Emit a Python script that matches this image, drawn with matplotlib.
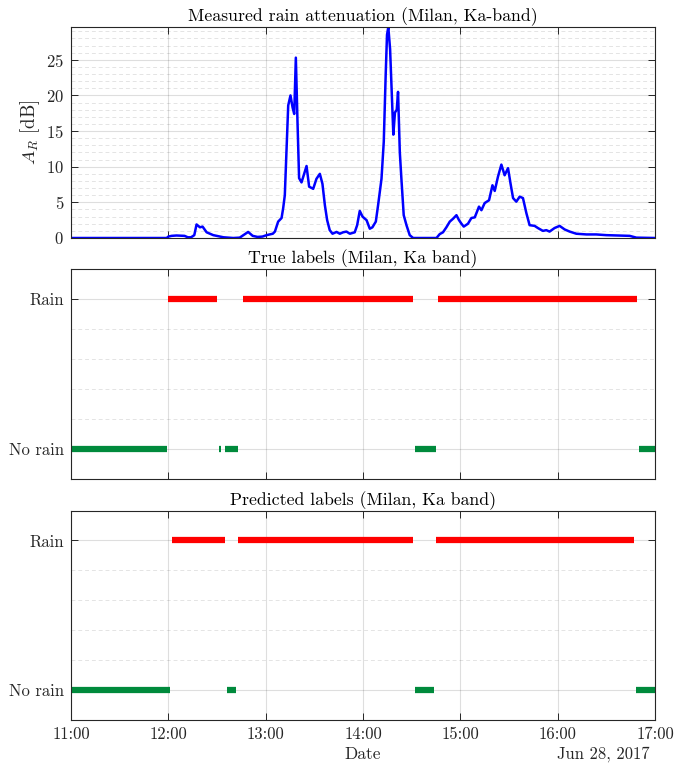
import datetime as dt
import matplotlib
matplotlib.use("Agg")
import matplotlib.pyplot as plt
import matplotlib.dates as mdates
from matplotlib.ticker import MultipleLocator, FixedLocator

plt.rcParams.update({
    "font.family": "serif",
    "font.serif": ["cmr10"],
    "mathtext.fontset": "cm",
    "axes.unicode_minus": False,
    "axes.formatter.use_mathtext": True,
    "font.size": 12,
})

# Rain attenuation time series: minutes after 11:00 and attenuation in dB
att_minutes = [0, 59, 60, 62, 65, 70, 72, 74, 76, 77.4, 79.5, 81.1, 83.6, 87.7, 91.8,
               94, 100, 104, 109.2, 112, 115, 118, 120.6, 122.6, 124.4, 125.7, 127.7,
               129.8, 130.8, 131.8, 132.7, 133.9, 135.3, 136.6, 137.6, 138.6, 139.6,
               140.6, 142.1, 143.7, 145.2, 146.8, 149.3, 151.3, 153.4, 155.0, 156.5,
               157.9, 159.5, 161.2, 163.7, 165.7, 167.7, 169.8, 171.9, 174.9, 176.4,
               178.0, 179.7, 182.2, 184.2, 185.8, 187.9, 189.3, 191.4, 192.8, 194.0,
               194.8, 195.6, 196.7, 197.7, 198.7, 199.7, 200.8, 201.6, 202.7, 203.7,
               205.1, 206.8, 208.8, 210.9, 225.3, 227.3, 229.3, 231.4, 233.5, 235.5,
               237.6, 239.2, 240.7, 242.1, 244.7, 246.8, 248.9, 251.5, 253.0, 255.0,
               257.7, 259.8, 261.2, 263.2, 265.3, 267.3, 269.4, 270.9, 272.5, 274.5,
               276.6, 278.6, 280.7, 282.7, 285.8, 287.8, 290.9, 293.0, 295.0, 298.1,
               301.2, 304.3, 307.4, 311.5, 317.7, 323.8, 330.0, 338.2, 344.4, 348.5, 360]
att_db = [0, 0, 0.2, 0.3, 0.35, 0.3, 0.1, 0.1, 0.4, 1.9, 1.5, 1.6, 0.8, 0.4, 0.2,
          0.1, 0.0, 0.05, 0.85, 0.3, 0.15, 0.2, 0.4, 0.5, 0.6, 0.9, 2.3,
          2.8, 4.2, 6.0, 11.5, 18.6, 20.0, 18.3, 17.4, 25.3, 16.5,
          8.4, 7.8, 9.0, 10.1, 7.2, 6.9, 8.3, 9.0, 7.6, 4.6,
          2.5, 1.1, 0.6, 0.85, 0.6, 0.8, 0.9, 0.6, 0.8, 1.8,
          3.8, 3.0, 2.5, 1.3, 1.5, 2.3, 4.6, 8.3, 13.5, 23.0,
          28.5, 29.6, 26.5, 20.5, 14.5, 17.6, 18.0, 20.5, 12.0, 8.2,
          3.2, 1.8, 0.4, 0.0, 0.0, 0.55, 0.8, 1.5, 2.3, 2.7,
          3.2, 2.5, 2.0, 1.6, 2.0, 2.8, 2.9, 4.4, 3.9, 4.9,
          5.3, 7.4, 6.6, 8.6, 10.3, 8.8, 9.8, 7.7, 5.6, 5.1,
          5.8, 5.6, 3.5, 1.8, 1.7, 1.4, 1.0, 1.1, 0.9, 1.4,
          1.7, 1.2, 0.9, 0.6, 0.5, 0.5, 0.4, 0.35, 0.3, 0.05, 0]

# Label intervals (start, end) in minutes after 11:00
true_rain = [(60, 90), (106, 211), (226, 349)]
true_norain = [(0, 59), (91, 92.7), (95, 103), (212, 225), (350, 360)]
pred_rain = [(62, 95), (103, 211), (225, 347)]
pred_norain = [(0, 61), (96, 102), (212, 224), (348, 360)]

label_names = ["No rain", "Rain"]
hour_ticks = [11, 12, 13, 14, 15, 16, 17]

base = dt.datetime(2017, 6, 28, 11, 0)


def t(m):
    return base + dt.timedelta(minutes=m)


AX_COL = (0.15, 0.15, 0.15)
RED = "#ff0000"
GREEN = "#008a3c"
TITLE_FS = 12.8

fig = plt.figure(figsize=(6.99, 7.64), dpi=100)
L, W = 71 / 699, 584 / 699
ax1 = fig.add_axes([L, 1 - 238 / 764, W, 211 / 764])
ax2 = fig.add_axes([L, 1 - 479 / 764, W, 210 / 764])
ax3 = fig.add_axes([L, 1 - 720 / 764, W, 209.5 / 764])


def style(ax):
    ax.set_xlim(t(0), t(360))
    ax.xaxis.set_major_locator(FixedLocator(
        [mdates.date2num(base.replace(hour=h)) for h in hour_ticks]))
    ax.xaxis.set_major_formatter(mdates.DateFormatter("%H:%M"))
    ax.tick_params(which="major", direction="in", length=5, width=0.7,
                   top=True, right=True, colors=AX_COL, labelcolor=AX_COL, pad=5,
                   labelsize=12)
    ax.tick_params(which="minor", length=0)
    for s in ax.spines.values():
        s.set_color(AX_COL)
        s.set_linewidth(0.8)
    ax.grid(True, which="major", color="k", alpha=0.13, linewidth=0.8, linestyle="-")
    ax.grid(True, which="minor", axis="y", color="k", alpha=0.11, linewidth=0.7,
            linestyle=(0, (4, 3)))
    ax.set_axisbelow(True)


# Attenuation panel
style(ax1)
ax1.plot([t(m) for m in att_minutes], att_db, color="#0000ff", linewidth=1.8)
ax1.set_ylim(0, max(att_db))
ax1.yaxis.set_major_locator(MultipleLocator(5))
ax1.yaxis.set_minor_locator(MultipleLocator(1))
ax1.set_ylabel(r"$A_R$ [dB]", fontsize=13.5, color=AX_COL, labelpad=3)
ax1.set_title("Measured rain attenuation (Milan, Ka-band)", fontsize=TITLE_FS,
              color="k", pad=4)
ax1.tick_params(labelbottom=False)


def draw_labels(ax, rain, norain, title):
    style(ax)
    for a, b in rain:
        ax.plot([t(a), t(b)], [1, 1], color=RED, linewidth=4.5, solid_capstyle="butt")
    for a, b in norain:
        ax.plot([t(a), t(b)], [0, 0], color=GREEN, linewidth=4.5, solid_capstyle="butt")
    ax.set_ylim(-0.2, 1.2)
    ax.set_yticks([0, 1])
    ax.set_yticklabels(label_names)
    ax.yaxis.set_minor_locator(MultipleLocator(0.2))
    ax.set_title(title, fontsize=TITLE_FS, color="k", pad=4)


draw_labels(ax2, true_rain, true_norain, "True labels (Milan, Ka band)")
ax2.tick_params(labelbottom=False)
draw_labels(ax3, pred_rain, pred_norain, "Predicted labels (Milan, Ka band)")
ax3.set_xlabel("Date", fontsize=12.5, color=AX_COL, labelpad=3)
ax3.text(0.99, -0.128, "Jun 28, 2017", transform=ax3.transAxes, ha="right",
         va="top", fontsize=12, color=AX_COL)

fig.savefig("out.png", dpi=100)
